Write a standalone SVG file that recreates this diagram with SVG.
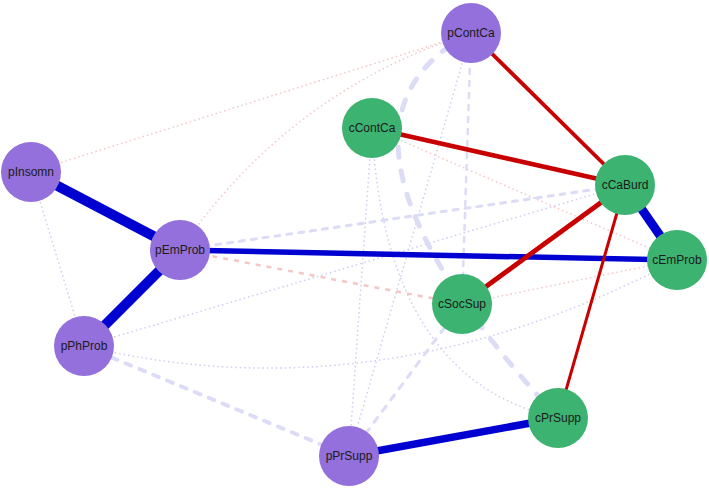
<svg xmlns="http://www.w3.org/2000/svg" width="709" height="488" viewBox="0 0 709 488">
<style>
.e{fill:none;stroke-linecap:butt}
.dot{stroke:#cdcdf3;stroke-width:1.5;stroke-dasharray:1.5 3}
.pdot{stroke:#f4c6c6;stroke-width:1.5;stroke-dasharray:1.5 3}
.pdash{stroke:#f4c6c6;stroke-width:2.5;stroke-dasharray:5 6}
.dash{stroke:#dcdcf7;stroke-linecap:round}
.pos{stroke:#0000d0}
.neg{stroke:#c80000}
.pn circle{fill:#9370db}
.cn circle{fill:#3cb371}
text{font-family:"Liberation Sans",Arial,sans-serif;font-size:12px;fill:#1a1a1a;text-anchor:middle;dominant-baseline:central}
</style>
<rect width="709" height="488" fill="#ffffff"/>
<g id="edges">
<line class="e pdot" x1="31" y1="172" x2="471" y2="33"/>
<path class="e pdot" d="M180,250 Q290,90 471,33"/>
<line class="e dot" x1="31" y1="172" x2="84" y2="346"/>
<line class="e dot" x1="84" y1="346" x2="625" y2="185"/>
<path class="e dot" d="M84,346 Q380,417 677,260"/>
<line class="e dot" x1="471" y1="33" x2="349" y2="456"/>
<line class="e dot" x1="372" y1="128" x2="349" y2="456"/>
<path class="e dot" d="M372,128 Q385,380 558,418"/>
<line class="e pdot" x1="372" y1="128" x2="677" y2="260"/>
<line class="e pdot" x1="462" y1="304" x2="677" y2="260"/>
<line class="e pdash" x1="180" y1="250" x2="462" y2="304"/>
<line class="e dash" x1="180" y1="250" x2="625" y2="185" stroke-width="3" stroke-dasharray="5 7"/>
<line class="e dash" x1="471" y1="33" x2="462" y2="304" stroke-width="2.5" stroke-dasharray="5 7"/>
<line class="e dash" x1="349" y1="456" x2="462" y2="304" stroke-width="3" stroke-dasharray="6 8"/>
<line class="e dash" x1="84" y1="346" x2="349" y2="456" stroke-width="4" stroke-dasharray="6 9"/>
<path class="e dash" d="M471,33 Q290,128 558,418" stroke-width="5" stroke-dasharray="10 14"/>
<line class="e pos" x1="31" y1="172" x2="180" y2="250" stroke-width="10"/>
<line class="e pos" x1="180" y1="250" x2="84" y2="346" stroke-width="10"/>
<line class="e pos" x1="180" y1="250" x2="677" y2="260" stroke-width="5.5"/>
<line class="e pos" x1="625" y1="185" x2="677" y2="260" stroke-width="9"/>
<line class="e pos" x1="349" y1="456" x2="558" y2="418" stroke-width="7.5"/>
<line class="e neg" x1="471" y1="33" x2="625" y2="185" stroke-width="3.8"/>
<line class="e neg" x1="372" y1="128" x2="625" y2="185" stroke-width="4.8"/>
<line class="e neg" x1="462" y1="304" x2="625" y2="185" stroke-width="4.8"/>
<line class="e neg" x1="558" y1="418" x2="625" y2="185" stroke-width="3"/>
</g>
<g id="pInsomn" class="pn"><circle cx="31" cy="172" r="30"/><text x="31" y="172">pInsomn</text></g>
<g id="pEmProb" class="pn"><circle cx="180" cy="250" r="30"/><text x="180" y="250">pEmProb</text></g>
<g id="pPhProb" class="pn"><circle cx="84" cy="346" r="30"/><text x="84" y="346">pPhProb</text></g>
<g id="pPrSupp" class="pn"><circle cx="349" cy="456" r="30"/><text x="349" y="456">pPrSupp</text></g>
<g id="pContCa" class="pn"><circle cx="471" cy="33" r="30"/><text x="471" y="33">pContCa</text></g>
<g id="cContCa" class="cn"><circle cx="372" cy="128" r="30"/><text x="372" y="128">cContCa</text></g>
<g id="cCaBurd" class="cn"><circle cx="625" cy="185" r="30"/><text x="625" y="185">cCaBurd</text></g>
<g id="cEmProb" class="cn"><circle cx="677" cy="260" r="30"/><text x="677" y="260">cEmProb</text></g>
<g id="cSocSup" class="cn"><circle cx="462" cy="304" r="30"/><text x="462" y="304">cSocSup</text></g>
<g id="cPrSupp" class="cn"><circle cx="558" cy="418" r="30"/><text x="558" y="418">cPrSupp</text></g>
</svg>
